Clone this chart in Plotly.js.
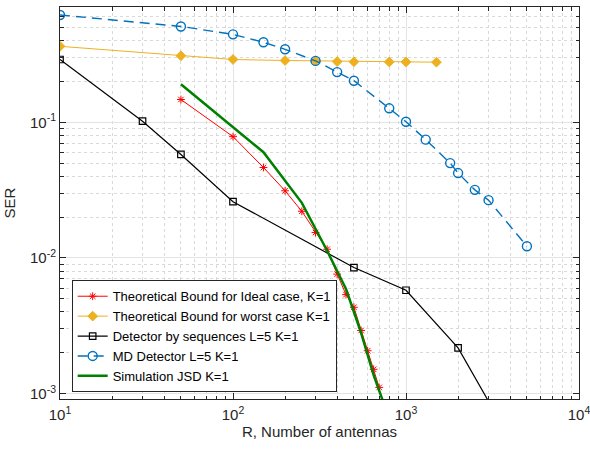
<!DOCTYPE html>
<html>
<head>
<meta charset="utf-8">
<script src="https://cdn.plot.ly/plotly-3.0.1.min.js"></script>
<style>html,body{margin:0;padding:0;background:#fff;}#chart{width:590px;height:450px;}</style>
</head>
<body>
<div id="chart"></div>
<script>
// ---- data ----
var idealX = [50, 100, 150, 200, 250, 300, 350, 400, 450, 500, 550, 600, 650, 700];
var idealY = [0.1475, 0.0785, 0.0465, 0.0313, 0.0221, 0.0154, 0.0116, 0.0076, 0.00537, 0.00433, 0.00292, 0.00207, 0.00151, 0.00111];

var worstX = [10, 50, 100, 200, 300, 400, 500, 800, 1000, 1500];
var worstY = [0.364, 0.31, 0.291, 0.286, 0.284, 0.281, 0.28, 0.279, 0.279, 0.278];

var seqX = [10, 30, 50, 100, 500, 1000, 2000, 5000];
var seqY = [0.291, 0.102, 0.058, 0.026, 0.0085, 0.00578, 0.00217, 0.00028];

var mdX = [10, 50, 100, 150, 200, 300, 400, 500, 800, 1000, 1300, 1800, 2000, 2500, 3000, 5000];
var mdY = [0.62, 0.51, 0.446, 0.39, 0.346, 0.284, 0.235, 0.203, 0.127, 0.101, 0.0746, 0.0501, 0.0423, 0.0318, 0.0267, 0.0122];

var jsdX = [50, 150, 250, 350, 450, 550, 650, 750];
var jsdY = [0.191, 0.0603, 0.0255, 0.0113, 0.0059, 0.0028, 0.00137, 0.00082];

var seriesNames = [
  'Theoretical Bound for Ideal case, K=1',
  'Theoretical Bound for worst case K=1',
  'Detector by sequences L=5 K=1',
  'MD Detector L=5 K=1',
  'Simulation JSD K=1'
];

var xTickVals = [10, 100, 1000, 10000];
var xTickText = ['10<sup>1</sup>', '10<sup>2</sup>', '10<sup>3</sup>', '10<sup>4</sup>'];
var xMinorVals = [20, 30, 40, 50, 60, 70, 80, 90, 200, 300, 400, 500, 600, 700, 800, 900, 2000, 3000, 4000, 5000, 6000, 7000, 8000, 9000];
var yTickVals = [0.001, 0.01, 0.1];
var yTickText = ['10<sup>-3</sup>', '10<sup>-2</sup>', '10<sup>-1</sup>'];
var yMinorVals = [0.0009, 0.002, 0.003, 0.004, 0.005, 0.006, 0.007, 0.008, 0.009, 0.02, 0.03, 0.04, 0.05, 0.06, 0.07, 0.08, 0.09, 0.2, 0.3, 0.4, 0.5, 0.6, 0.7];

var axisColor = '#262626';
var FONT = 'Liberation Sans, Arial, Helvetica, sans-serif';

var traces = [
  {x: idealX, y: idealY, name: seriesNames[0], type: 'scatter', mode: 'lines+markers',
   line: {color: '#ff0000', width: 1},
   marker: {symbol: 'asterisk-open', size: 6.5, color: '#ff0000', line: {color: '#ff0000', width: 1}}},
  {x: worstX, y: worstY, name: seriesNames[1], type: 'scatter', mode: 'lines+markers',
   line: {color: '#EDB120', width: 1},
   marker: {symbol: 'diamond', size: 7.5, color: '#EDB120', line: {color: '#EDB120', width: 1}}},
  {x: seqX, y: seqY, name: seriesNames[2], type: 'scatter', mode: 'lines+markers',
   line: {color: '#000000', width: 1.2},
   marker: {symbol: 'square-open', size: 6.5, color: '#000000', line: {color: '#000000', width: 1.2}}},
  {x: mdX, y: mdY, name: seriesNames[3], type: 'scatter', mode: 'lines+markers',
   line: {color: '#0072BD', width: 1.4, dash: '10px,6px'},
   marker: {symbol: 'circle-open', size: 9, color: '#0072BD', line: {color: '#0072BD', width: 1.4}}},
  {x: jsdX, y: jsdY, name: seriesNames[4], type: 'scatter', mode: 'lines',
   line: {color: '#008000', width: 2.5}}
];

var layout = {
  width: 590, height: 450,
  margin: {l: 60, r: 11, t: 7, b: 51},
  paper_bgcolor: '#ffffff', plot_bgcolor: '#ffffff',
  font: {family: FONT, color: axisColor, size: 13},
  showlegend: true,
  legend: {
    x: 0.0225, y: 0.16, xanchor: 'left', yanchor: 'middle',
    bgcolor: '#ffffff', bordercolor: axisColor, borderwidth: 1,
    font: {family: FONT, size: 13, color: '#000000'},
    tracegroupgap: 0
  },
  xaxis: {
    type: 'log', range: [1, 4],
    tickmode: 'array', tickvals: xTickVals, ticktext: xTickText,
    tickfont: {family: FONT, size: 15, color: axisColor},
    ticklabelstandoff: 2, ticklabeloverflow: 'allow',
    ticks: 'inside', ticklen: 6, tickwidth: 1, tickcolor: axisColor,
    showline: true, linecolor: axisColor, linewidth: 1, mirror: 'ticks',
    showgrid: true, gridcolor: '#e3e3e3', gridwidth: 1,
    zeroline: false,
    minor: {tickmode: 'array', tickvals: xMinorVals, ticks: 'inside', ticklen: 3.5, tickcolor: axisColor, tickwidth: 1,
            showgrid: true, gridcolor: '#d9d9d9', gridwidth: 1, griddash: 'dot'},
    title: {text: 'R, Number of antennas', font: {family: FONT, size: 15, color: axisColor}, standoff: 4}
  },
  yaxis: {
    type: 'log', range: [-3.04, -0.149],
    tickmode: 'array', tickvals: yTickVals, ticktext: yTickText,
    tickfont: {family: FONT, size: 15, color: axisColor},
    ticklabeloverflow: 'allow',
    ticks: 'inside', ticklen: 6, tickwidth: 1, tickcolor: axisColor,
    showline: true, linecolor: axisColor, linewidth: 1, mirror: 'ticks',
    showgrid: true, gridcolor: '#e3e3e3', gridwidth: 1,
    zeroline: false,
    minor: {tickmode: 'array', tickvals: yMinorVals, ticks: 'inside', ticklen: 3.5, tickcolor: axisColor, tickwidth: 1,
            showgrid: true, gridcolor: '#d9d9d9', gridwidth: 1, griddash: 'dot'},
    title: {text: 'SER', font: {family: FONT, size: 15, color: axisColor}, standoff: 10}
  }
};

Plotly.newPlot('chart', traces, layout, {displayModeBar: false, staticPlot: true});
</script>
</body>
</html>
